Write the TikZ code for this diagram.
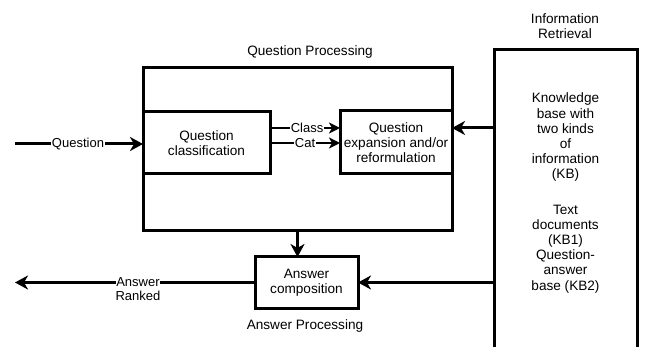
\documentclass[tikz,border=0pt]{standalone}
\usepackage{fontspec}
\setmainfont{Liberation Sans}
\usetikzlibrary{arrows.meta,calc}
\begin{document}
\begin{tikzpicture}[x=1pt,y=-1pt,
  box/.style={draw,line width=3pt,fill=white,inner sep=0pt,outer sep=0pt,align=center,font=\fontsize{13.6}{15.2}\selectfont},
  txt/.style={align=center,inner sep=0pt,font=\fontsize{13.6}{15.2}\selectfont},
  lbl/.style={fill=white,inner sep=0.5pt,align=center,font=\fontsize{13}{13.5}\selectfont},
  arr/.style={line width=3pt,-{Stealth[length=13pt,width=14pt,inset=4pt]}},
  arrs/.style={line width=2.4pt,-{Stealth[length=11pt,width=11pt,inset=3pt]}}]
\useasboundingbox (0,0) rectangle (645,347);
\clip (0,0) rectangle (645,347);
% outer question processing box
\node[box,minimum width=309pt,minimum height=163pt] (qp) at (297.5,149.5) {};
\node[box,minimum width=127pt,minimum height=62pt] (qc) at (206.5,143) {Question\\classification};
\node[box,minimum width=112pt,minimum height=63pt] (qe) at (396,142.5) {Question\\expansion and/or\\reformulation};
\node[box,minimum width=103pt,minimum height=51pt] (ac) at (306.5,282.5) {Answer\\composition};
\node[box,minimum width=143pt,minimum height=310pt] (IR) at (565.5,205) {};
\node[txt] (kb) at (565.5,193) {Knowledge\\base with\\two kinds\\of\\information\\(KB)\\[20pt]Text\\documents\\(KB1)\\Question-\\answer\\base (KB2)};
% titles
\node[txt] (qpt) at (310,52) {Question Processing};
\node[txt] (apt) at (305,326) {Answer Processing};
\node[txt] (irt) at (565,26) {Information\\Retrieval};
% connectors
\coordinate (qin) at (15,144);
\coordinate (aout) at (15,282.5);
\coordinate (qeIn) at ([yshift=14.5pt]qe.east);
\draw[arr] (qin) -- (qin -| qc.west);
\node[lbl] (qlbl) at (78,144) {Question};
\draw[arrs] ([yshift=15pt]qc.east) -- ([yshift=15pt]qc.east -| qe.west);
\node[lbl] (cls) at (307,128) {Class};
\draw[arrs] (qc.east) -- (qc.east -| qe.west);
\node[lbl] (cat) at (305,143) {Cat};
\draw[arr] (qeIn -| IR.west) -- (qeIn);
\draw[arr] (qp.south) -- (qp.south |- ac.north);
\draw[arr] (ac.east -| IR.west) -- (ac.east);
\draw[arr] (ac.west) -- (aout);
\node[lbl,inner sep=0pt] (ans) at (138,289) {Answer\\Ranked};
\end{tikzpicture}
\end{document}
